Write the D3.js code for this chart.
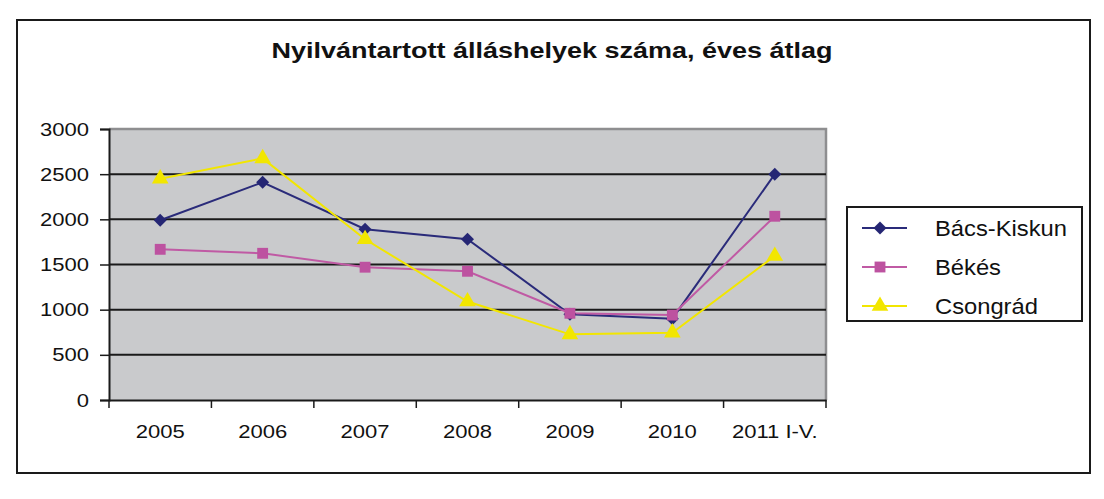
<!DOCTYPE html>
<html>
<head>
<meta charset="utf-8">
<script src="https://cdn.jsdelivr.net/npm/d3@7"></script>
<style>
body{margin:0;background:#fff;}
text{font-family:Arial,"Liberation Sans",sans-serif;fill:#111;}
</style>
</head>
<body>
<svg id="chart"></svg>
<script>
var categories=["2005","2006","2007","2008","2009","2010","2011 I-V."]
var bacsKiskun=[1990,2410,1890,1780,950,900,2500]
var bekes=[1668,1624,1470,1425,960,940,2034]
var csongrad=[2450,2675,1779,1090,727,745,1594]
var yTicks=[0,500,1000,1500,2000,2500,3000]
var seriesNames=["Bács-Kiskun","Békés","Csongrád"]
var title="Nyilvántartott álláshelyek száma, éves átlag"

var width=1104,height=499
var margin={left:109,right:278,top:129,bottom:99}
var plotW=width-margin.left-margin.right
var plotH=height-margin.top-margin.bottom

var series=[
	{name:seriesNames[0],values:bacsKiskun,color:"#252674",symbol:d3.symbolSquare,size:84,rot:45,lineColor:"#2a2b7a"},
	{name:seriesNames[1],values:bekes,color:"#bd52a0",symbol:d3.symbolSquare,size:118,rot:0,lineColor:"#c05aa4"},
	{name:seriesNames[2],values:csongrad,color:"#f2e600",symbol:d3.symbolTriangle,size:120,rot:0,lineColor:"#f2e600"}
]

var svg=d3.select("#chart")
.attr("width",width)
.attr("height",height)

// outer frame
svg.append("rect")
.attr("x",17).attr("y",20)
.attr("width",1073).attr("height",453)
.attr("fill","#fff")
.attr("stroke","#1a1a1a")
.attr("stroke-width",2)

svg.append("text")
.attr("transform","translate(552,58) scale(1.2,1)")
.attr("text-anchor","middle")
.style("font-size","22.5px")
.style("font-weight","bold")
.text(title)

var xScale=d3.scaleBand()
.domain(categories)
.range([margin.left,margin.left+plotW])

var yScale=d3.scaleLinear()
.domain([0,3000])
.range([margin.top+plotH,margin.top])

var g=svg.append("g")

// plot background
g.append("rect")
.attr("x",margin.left).attr("y",margin.top)
.attr("width",plotW).attr("height",plotH)
.attr("fill","#c9cacc")

// grey border top/right
g.append("path")
.attr("d",`M${margin.left},${margin.top}H${margin.left+plotW}V${margin.top+plotH}`)
.attr("fill","none")
.attr("stroke","#8e8e90")
.attr("stroke-width",2.5)

// gridlines
g.selectAll(".grid")
.data(yTicks.filter(d=>d>0&&d<3000))
.enter()
.append("line")
.classed("grid",true)
.attr("x1",margin.left).attr("x2",margin.left+plotW)
.attr("y1",d=>yScale(d)).attr("y2",d=>yScale(d))
.attr("stroke","#1a1a1a")
.attr("stroke-width",2)

// y axis
var yAxis=d3.axisLeft(yScale)
.tickValues(yTicks)
.tickSize(9)
.tickPadding(11)
.tickFormat(d3.format("d"))

var yg=svg.append("g")
.attr("transform","translate("+margin.left+",0)")
.call(yAxis)
yg.select(".domain").attr("stroke","#1a1a1a").attr("stroke-width",2)
yg.selectAll(".tick line").attr("stroke","#1a1a1a").attr("stroke-width",1.5)
yg.selectAll(".tick text")
.attr("fill","#111")
.style("font-size","19px")
.attr("transform",function(){
	var x=+d3.select(this).attr("x")
	return `translate(${x},0) scale(1.16,1)`
})
.attr("x",0)

// x axis
var xAxis=d3.axisBottom(xScale).tickSize(0).tickPadding(0)
var xg=svg.append("g")
.attr("transform","translate(0,"+(margin.top+plotH)+")")
.call(xAxis)
xg.select(".domain").attr("stroke","#1a1a1a").attr("stroke-width",2)
xg.selectAll(".tick text")
.attr("fill","#111")
.style("font-size","19px")
.attr("dy",null)
.attr("y",0)
.attr("transform","translate(0,38) scale(1.16,1)")

xg.selectAll(".sep")
.data(categories.concat([null]))
.enter()
.append("line")
.classed("sep",true)
.attr("x1",(d,i)=>margin.left+i*xScale.bandwidth())
.attr("x2",(d,i)=>margin.left+i*xScale.bandwidth())
.attr("y1",0).attr("y2",8)
.attr("stroke","#1a1a1a")
.attr("stroke-width",1.5)

// series
var line=d3.line()
.x((d,i)=>xScale(categories[i])+xScale.bandwidth()/2)
.y(d=>yScale(d))

series.forEach(s=>{
	svg.append("path")
	.datum(s.values)
	.attr("d",line)
	.attr("fill","none")
	.attr("stroke",s.lineColor)
	.attr("stroke-width",2)
})

series.forEach(s=>{
	svg.selectAll(null)
	.data(s.values)
	.enter()
	.append("path")
	.attr("d",d3.symbol().type(s.symbol).size(s.size))
	.attr("transform",(d,i)=>`translate(${xScale(categories[i])+xScale.bandwidth()/2},${yScale(d)}) rotate(${s.rot})`)
	.attr("fill",s.color)
})

// legend
var legend=svg.append("g").attr("transform","translate(847,207)")
legend.append("rect")
.attr("width",235).attr("height",114)
.attr("fill","#fff")
.attr("stroke","#1a1a1a")
.attr("stroke-width",2)

var items=legend.selectAll(".item")
.data(series)
.enter()
.append("g")
.classed("item",true)
.attr("transform",(d,i)=>`translate(0,${21+i*39})`)

items.append("line")
.attr("x1",15).attr("x2",60)
.attr("stroke",d=>d.lineColor)
.attr("stroke-width",2)

items.append("path")
.attr("d",d=>d3.symbol().type(d.symbol).size(d.size)())
.attr("transform",d=>`translate(33,0) rotate(${d.rot})`)
.attr("fill",d=>d.color)

items.append("text")
.attr("transform","translate(88,8) scale(1.08,1)")
.style("font-size","22px")
.text(d=>d.name)
</script>
</body>
</html>
